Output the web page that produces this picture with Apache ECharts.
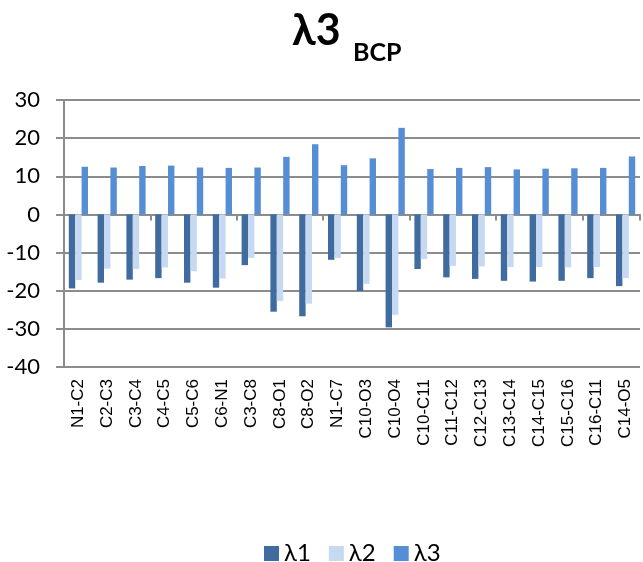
<!DOCTYPE html>
<html>
<head>
<meta charset="utf-8">
<script src="https://cdn.jsdelivr.net/npm/echarts@6/dist/echarts.min.js"></script>
<style>
  html, body { margin: 0; padding: 0; background: #fff; }
  #chart { width: 643px; height: 562px; }
</style>
</head>
<body>
<div id="chart"></div>
<script>
// Bond critical points along the molecule
const bonds = ['N1-C2', 'C2-C3', 'C3-C4', 'C4-C5', 'C5-C6', 'C6-N1', 'C3-C8', 'C8-O1', 'C8-O2', 'N1-C7',
  'C10-O3', 'C10-O4', 'C10-C11', 'C11-C12', 'C12-C13', 'C13-C14', 'C14-C15', 'C15-C16', 'C16-C11', 'C14-O5'];

// Hessian eigenvalues at each BCP
const lambda1 = [-19.4, -17.9, -17.1, -16.7, -17.9, -19.2, -13.3, -25.5, -26.7, -11.9,
  -20.1, -29.6, -14.3, -16.5, -16.9, -17.4, -17.6, -17.4, -16.7, -18.8];
const lambda2 = [-17.2, -14.2, -14.3, -13.9, -14.9, -16.8, -11.4, -22.7, -23.4, -11.4,
  -18.2, -26.3, -11.7, -13.5, -13.6, -13.8, -13.8, -13.9, -13.8, -16.7];
const lambda3 = [12.5, 12.3, 12.7, 12.8, 12.3, 12.2, 12.3, 15.1, 18.4, 12.9,
  14.7, 22.7, 11.9, 12.2, 12.4, 11.8, 12.0, 12.1, 12.2, 15.2];

const seriesNames = ['λ1', 'λ2', 'λ3'];
const seriesColors = ['#3f6b9e', '#c6d9f1', '#568ed5'];

const FONT = 'Lato';
const LABEL_FONT = 'Liberation Sans';
const gridColor = '#8c8c8c';

const chart = echarts.init(document.getElementById('chart'), null, { renderer: 'canvas' });

const makeBar = (name, data, color) => ({
  name: name,
  type: 'bar',
  data: data,
  xAxisIndex: 0,
  barWidth: 6.4,
  barGap: '0%',
  itemStyle: { color: color },
  emphasis: { disabled: true }
});

chart.setOption({
  animation: false,
  textStyle: { fontFamily: FONT },
  title: [
    {
      text: 'λ3',
      left: 292, top: 10, padding: 0,
      textStyle: { fontFamily: FONT, fontWeight: 'bold', fontSize: 43, color: '#000' }
    },
    {
      text: 'BCP',
      left: 353, top: 40, padding: 0,
      textStyle: { fontFamily: FONT, fontWeight: 'bold', fontSize: 25, color: '#000' }
    }
  ],
  legend: {
    data: seriesNames,
    left: 264, top: 541, padding: 0,
    icon: 'rect',
    itemWidth: 15, itemHeight: 15,
    itemGap: 18,
    textStyle: { fontFamily: FONT, fontSize: 24, lineHeight: 25, color: '#000' }
  },
  grid: { left: 64, right: 3, top: 100, bottom: 195, containLabel: false },
  xAxis: [
    {
      type: 'category',
      data: bonds,
      position: 'bottom',
      axisLine: { show: true, onZero: true, lineStyle: { color: gridColor, width: 2 } },
      axisTick: { show: true, length: 6, lineStyle: { color: gridColor, width: 2 } },
      axisLabel: { show: false },
      splitLine: { show: false }
    },
    {
      type: 'category',
      data: bonds,
      position: 'bottom',
      axisLine: { show: false, onZero: false },
      axisTick: { show: false },
      axisLabel: {
        show: true, interval: 0, rotate: 90, margin: 12,
        fontFamily: LABEL_FONT, fontSize: 17, color: '#000'
      },
      splitLine: { show: false }
    }
  ],
  yAxis: {
    type: 'value',
    min: -40, max: 30, interval: 10,
    axisLine: { show: true, lineStyle: { color: gridColor, width: 2 } },
    axisTick: { show: true, length: 8, lineStyle: { color: gridColor, width: 2 } },
    axisLabel: { margin: 24, fontFamily: FONT, fontSize: 22, color: '#000' },
    splitLine: { show: true, lineStyle: { color: gridColor, width: 2 } }
  },
  series: [
    makeBar(seriesNames[0], lambda1, seriesColors[0]),
    makeBar(seriesNames[1], lambda2, seriesColors[1]),
    makeBar(seriesNames[2], lambda3, seriesColors[2])
  ]
});
</script>
</body>
</html>
